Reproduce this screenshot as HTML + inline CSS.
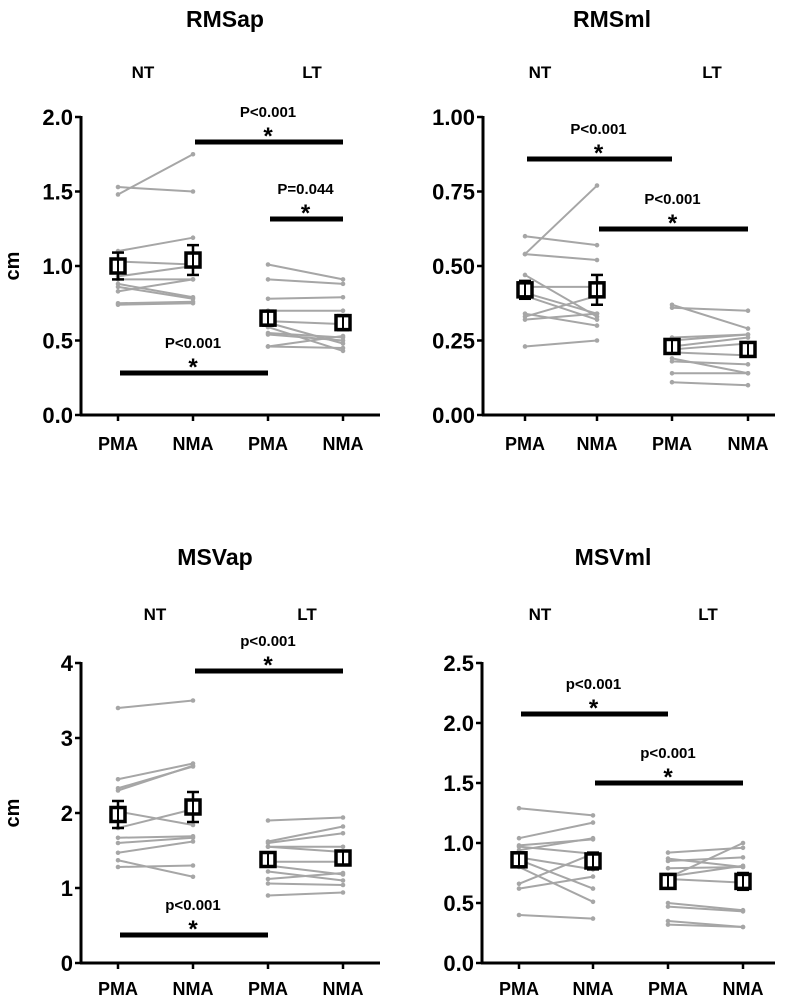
<!DOCTYPE html>
<html><head><meta charset="utf-8">
<style>
html,body{margin:0;padding:0;background:#fff;}
svg{display:block;font-family:"Liberation Sans",Arial,sans-serif;font-weight:bold;}
</style></head>
<body>
<svg id="chart" width="787" height="1001" viewBox="0 0 787 1001" xmlns="http://www.w3.org/2000/svg"></svg>
<script>
const NS="http://www.w3.org/2000/svg";
const categories=["PMA","NMA","PMA","NMA"];
const groupLabels=["NT","LT"];
// RMSap
const rmsapNT_PMA=[1.48,1.53,1.10,1.03,0.93,0.91,0.88,0.86,0.83,0.75,0.74];
const rmsapNT_NMA=[1.75,1.50,1.19,1.01,1.00,0.91,0.79,0.78,0.91,0.76,0.75];
const rmsapLT_PMA=[1.01,0.91,0.78,0.70,0.63,0.62,0.55,0.54,0.46,0.46,0.59];
const rmsapLT_NMA=[0.91,0.88,0.79,0.70,0.61,0.48,0.52,0.50,0.53,0.45,0.43];
const rmsapMean=[1.00,1.04,0.65,0.62];
const rmsapErr=[0.09,0.10,0.05,0.05];
const rmsapTicks=["0.0","0.5","1.0","1.5","2.0"];
const rmsapTickVals=[0,0.5,1.0,1.5,2.0];
// RMSml
const rmsmlNT_PMA=[0.54,0.60,0.54,0.47,0.43,0.41,0.40,0.34,0.33,0.32,0.23];
const rmsmlNT_NMA=[0.77,0.57,0.52,0.33,0.43,0.34,0.32,0.30,0.40,0.34,0.25];
const rmsmlLT_PMA=[0.37,0.36,0.26,0.25,0.23,0.22,0.21,0.19,0.18,0.14,0.11];
const rmsmlLT_NMA=[0.29,0.35,0.27,0.27,0.26,0.24,0.20,0.14,0.17,0.14,0.10];
const rmsmlMean=[0.42,0.42,0.23,0.22];
const rmsmlErr=[0.03,0.05,0.02,0.02];
const rmsmlTicks=["0.00","0.25","0.50","0.75","1.00"];
const rmsmlTickVals=[0,0.25,0.5,0.75,1.0];
// MSVap
const msvapNT_PMA=[3.40,2.45,2.33,2.30,2.02,1.80,1.67,1.60,1.47,1.37,1.28];
const msvapNT_NMA=[3.50,2.66,2.62,2.63,1.84,2.05,1.69,1.67,1.62,1.15,1.30];
const msvapLT_PMA=[1.90,1.62,1.60,1.55,1.55,1.35,1.30,1.22,1.12,1.06,0.90];
const msvapLT_NMA=[1.94,1.82,1.73,1.55,1.48,1.35,1.18,1.10,1.20,1.04,0.94];
const msvapMean=[1.98,2.08,1.38,1.40];
const msvapErr=[0.18,0.20,0.07,0.07];
const msvapTicks=["0","1","2","3","4"];
const msvapTickVals=[0,1,2,3,4];
// MSVml
const msvmlNT_PMA=[1.29,1.04,0.98,0.97,0.94,0.88,0.86,0.80,0.66,0.62,0.40];
const msvmlNT_NMA=[1.23,1.17,1.03,0.91,1.04,0.78,0.62,0.51,0.91,0.72,0.37];
const msvmlLT_PMA=[0.92,0.87,0.85,0.79,0.72,0.70,0.71,0.50,0.47,0.35,0.32];
const msvmlLT_NMA=[0.96,0.80,0.88,0.80,0.81,0.67,1.00,0.44,0.43,0.30,0.30];
const msvmlMean=[0.86,0.85,0.68,0.68];
const msvmlErr=[0.06,0.07,0.06,0.07];
const msvmlTicks=["0.0","0.5","1.0","1.5","2.0","2.5"];
const msvmlTickVals=[0,0.5,1.0,1.5,2.0,2.5];

const panels=[
 {name:"rmsap",title:"RMSap",tx:225,ty:27,ax:81,y0:415,y1:117,ymax:2,xs:[118,193,268,343],xend:380,xl:35,ylab:true,lx:[143,312],ly:78,
  nt:[rmsapNT_PMA,rmsapNT_NMA],lt:[rmsapLT_PMA,rmsapLT_NMA],mean:rmsapMean,err:rmsapErr,ticks:rmsapTicks,tv:rmsapTickVals,
  sig:[{a:1,b:3,y:142,t:"P<0.001"},{a:2,b:3,y:219,t:"P=0.044"},{a:0,b:2,y:373,t:"P<0.001"}]},
 {name:"rmsml",title:"RMSml",tx:612,ty:27,ax:483,y0:415,y1:117,ymax:1,xs:[525,597,672,748],xend:775,xl:35,ylab:false,lx:[540,712],ly:78,
  nt:[rmsmlNT_PMA,rmsmlNT_NMA],lt:[rmsmlLT_PMA,rmsmlLT_NMA],mean:rmsmlMean,err:rmsmlErr,ticks:rmsmlTicks,tv:rmsmlTickVals,
  sig:[{a:0,b:2,y:159,t:"P<0.001"},{a:1,b:3,y:229,t:"P<0.001"}]},
 {name:"msvap",title:"MSVap",tx:215,ty:565,ax:81,y0:963,y1:663,ymax:4,xs:[118,193,268,343],xend:380,xl:32,ylab:true,lx:[155,307],ly:620,
  nt:[msvapNT_PMA,msvapNT_NMA],lt:[msvapLT_PMA,msvapLT_NMA],mean:msvapMean,err:msvapErr,ticks:msvapTicks,tv:msvapTickVals,
  sig:[{a:1,b:3,y:671,t:"p<0.001"},{a:0,b:2,y:935,t:"p<0.001"}]},
 {name:"msvml",title:"MSVml",tx:613,ty:565,ax:482,y0:963,y1:663,ymax:2.5,xs:[519,593,668,743],xend:775,xl:32,ylab:false,lx:[540,708],ly:620,
  nt:[msvmlNT_PMA,msvmlNT_NMA],lt:[msvmlLT_PMA,msvmlLT_NMA],mean:msvmlMean,err:msvmlErr,ticks:msvmlTicks,tv:msvmlTickVals,
  sig:[{a:0,b:2,y:714,t:"p<0.001"},{a:1,b:3,y:783,t:"p<0.001"}]}
];
const svg=document.getElementById('chart');
function mk(tag,attrs,parent,text){const e=document.createElementNS(NS,tag);for(const k in attrs)e.setAttribute(k,attrs[k]);if(text!==undefined)e.textContent=text;(parent||svg).appendChild(e);return e;}
panels.forEach(p=>{
 const g=mk('g',{});
 
 
 const Y=v=>p.y0-(v/p.ymax)*(p.y0-p.y1);
 const t=mk('text',{x:p.tx,y:p.ty,'text-anchor':'middle','font-size':23},g,p.title);
 
 
 groupLabels.forEach((gl,i)=>{const e=mk('text',{x:p.lx[i],y:p.ly,'text-anchor':'middle','font-size':17},g,gl);
  
  });
 const ya=mk('line',{x1:p.ax,y1:p.y1-1,x2:p.ax,y2:p.y0+1,stroke:'#000','stroke-width':3},g);
 
 
 const xa=mk('line',{x1:p.ax-1,y1:p.y0,x2:p.xend,y2:p.y0,stroke:'#000','stroke-width':3},g);
 
 
 p.tv.forEach((v,i)=>{
  mk('line',{x1:p.ax-6,y1:Y(v),x2:p.ax,y2:Y(v),stroke:'#000','stroke-width':2.5},g);
  const e=mk('text',{x:p.ax-8,y:Y(v)+8,'text-anchor':'end','font-size':22},g,p.ticks[i]);
  
  
 });
 categories.forEach((c,i)=>{
  mk('line',{x1:p.xs[i],y1:p.y0,x2:p.xs[i],y2:p.y0+6,stroke:'#000','stroke-width':2.5},g);
  const e=mk('text',{x:p.xs[i],y:p.y0+p.xl,'text-anchor':'middle','font-size':18},g,c);
  
  
 });
 if(p.ylab){const e=mk('text',{x:0,y:0,'text-anchor':'middle','font-size':20,transform:`translate(19,${(p.y0+p.y1)/2}) rotate(-90)`},g,'cm');
  
  }
 [[p.nt,0],[p.lt,2]].forEach(([pair,off])=>{
  pair[0].forEach((v,k)=>{
   const x1=p.xs[off],x2=p.xs[off+1],y1=Y(v),y2=Y(pair[1][k]);
   const l=mk('line',{x1,y1,x2,y2,stroke:'#a6a6a6','stroke-width':2},g);
   
   
   mk('circle',{cx:x1,cy:y1,r:2.3,fill:'#a6a6a6'},g);
   mk('circle',{cx:x2,cy:y2,r:2.3,fill:'#a6a6a6'},g);
  });
 });
 p.mean.forEach((m,i)=>{
  const x=p.xs[i],yt=Y(m+p.err[i]),yb=Y(m-p.err[i]),ym=Y(m);
  const eg=mk('g',{},g);
  
  
  mk('line',{x1:x,y1:yt,x2:x,y2:yb,stroke:'#000','stroke-width':2.5},eg);
  mk('line',{x1:x-6,y1:yt,x2:x+6,y2:yt,stroke:'#000','stroke-width':2.5},eg);
  mk('line',{x1:x-6,y1:yb,x2:x+6,y2:yb,stroke:'#000','stroke-width':2.5},eg);
  mk('rect',{x:x-7,y:ym-7,width:14,height:14,fill:'#fff',stroke:'#000','stroke-width':3.5},eg);
  mk('line',{x1:x,y1:ym-7,x2:x,y2:ym+7,stroke:'#000','stroke-width':2},eg);
 });
 p.sig.forEach(s=>{
  const x1=p.xs[s.a],x2=p.xs[s.b],cx=(x1+x2)/2;
  const sg=mk('g',{},g);
  
  
  mk('line',{x1:x1+2,y1:s.y,x2:x2,y2:s.y,stroke:'#000','stroke-width':5},sg);
  mk('text',{x:cx,y:s.y-25,'text-anchor':'middle','font-size':15},sg,s.t);
  mk('text',{x:cx,y:s.y+2,'text-anchor':'middle','font-size':24},sg,'*');
 });
});
</script>
</body></html>
